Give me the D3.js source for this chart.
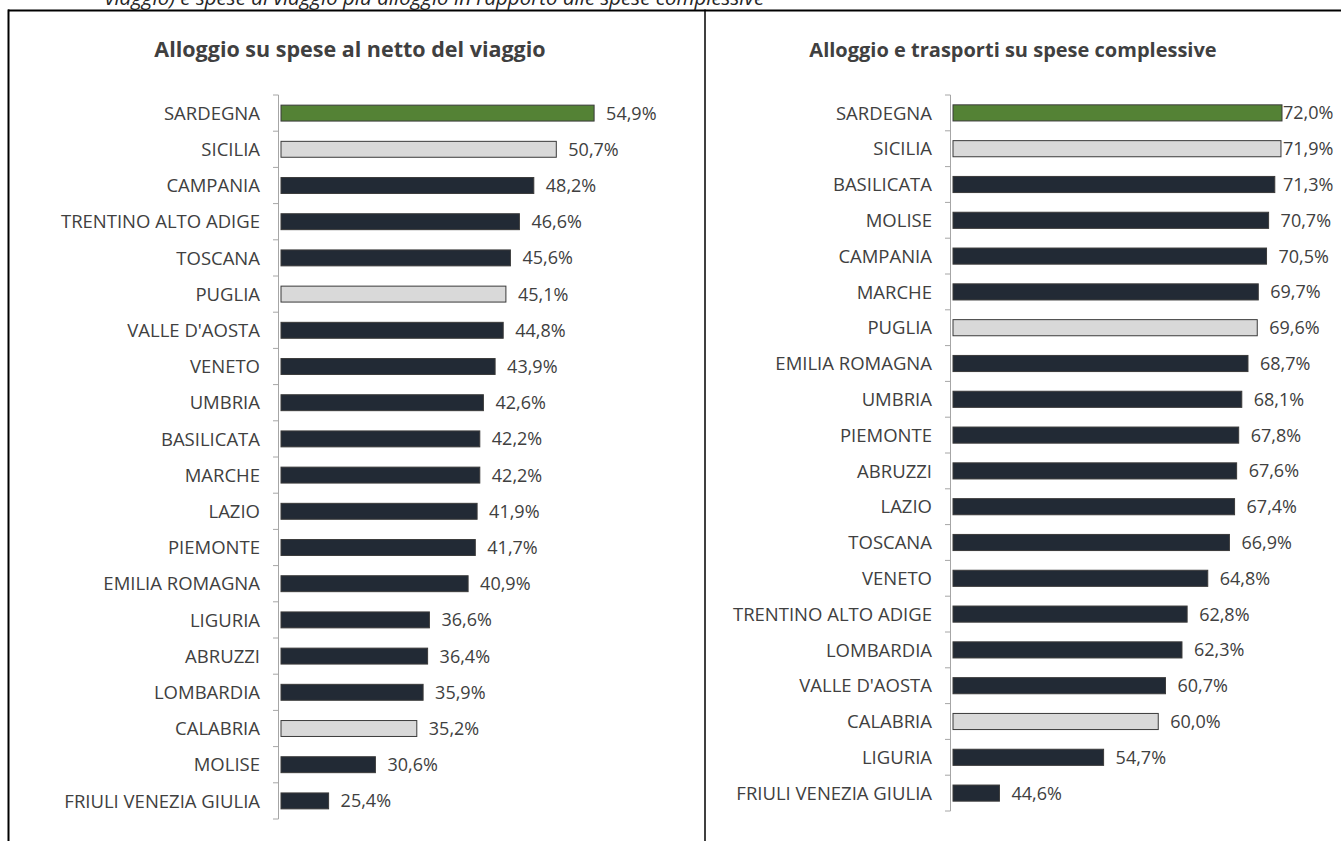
<!DOCTYPE html>
<html><head><meta charset="utf-8">
<script src="https://cdn.jsdelivr.net/npm/d3@7"></script>
<style>
html,body{margin:0;padding:0;background:#fff;}
svg{display:block;font-family:"Open Sans",Lato,sans-serif;}
</style></head>
<body>
<svg id="chart" width="1341" height="841"></svg>
<script>
const caption = "viaggio) e spese di viaggio più alloggio in rapporto alle spese complessive";
const titleLeft = "Alloggio su spese al netto del viaggio";
const titleRight = "Alloggio e trasporti su spese complessive";

const leftCategories = ["SARDEGNA","SICILIA","CAMPANIA","TRENTINO ALTO ADIGE","TOSCANA","PUGLIA","VALLE D'AOSTA","VENETO","UMBRIA","BASILICATA","MARCHE","LAZIO","PIEMONTE","EMILIA ROMAGNA","LIGURIA","ABRUZZI","LOMBARDIA","CALABRIA","MOLISE","FRIULI VENEZIA GIULIA"];
const leftValues = [54.9,50.7,48.2,46.6,45.6,45.1,44.8,43.9,42.6,42.2,42.2,41.9,41.7,40.9,36.6,36.4,35.9,35.2,30.6,25.4];

const rightCategories = ["SARDEGNA","SICILIA","BASILICATA","MOLISE","CAMPANIA","MARCHE","PUGLIA","EMILIA ROMAGNA","UMBRIA","PIEMONTE","ABRUZZI","LAZIO","TOSCANA","VENETO","TRENTINO ALTO ADIGE","LOMBARDIA","VALLE D'AOSTA","CALABRIA","LIGURIA","FRIULI VENEZIA GIULIA"];
const rightValues = [72.0,71.9,71.3,70.7,70.5,69.7,69.6,68.7,68.1,67.8,67.6,67.4,66.9,64.8,62.8,62.3,60.7,60.0,54.7,44.6];

const highlight = ["SARDEGNA"];
const southGroup = ["SICILIA","PUGLIA","CALABRIA"];

const svg = d3.select("#chart");
const fmt = v => d3.format(".1f")(v).replace(".", ",") + "%";

// frame
svg.append("line").attr("x1",8).attr("x2",1341).attr("y1",10.5).attr("y2",10.5).attr("stroke","#000").attr("stroke-width",2);
svg.append("line").attr("x1",8.5).attr("x2",8.5).attr("y1",9.5).attr("y2",841).attr("stroke","#000").attr("stroke-width",2);
svg.append("line").attr("x1",705).attr("x2",705).attr("y1",9.5).attr("y2",841).attr("stroke","#000").attr("stroke-width",1.5);

svg.append("text").attr("x",105).attr("y",5).attr("font-style","italic").attr("font-size",20.5)
  .attr("fill","#262626").text(caption);

function panel(cfg) {
  const g = svg.append("g");
  g.append("text").attr("x",cfg.titleX).attr("y",57).attr("text-anchor","middle")
    .attr("font-size",cfg.titleSize).attr("font-weight","bold").attr("fill","#404040").text(cfg.title);

  const x = d3.scaleLinear().domain(cfg.domain).range(cfg.xRange);
  const y = d3.scaleBand().domain(cfg.cats).range(cfg.yRange).paddingInner(cfg.pad).paddingOuter(cfg.pad/2);
  const data = cfg.cats.map((c,i)=>({c, v: cfg.vals[i]}));
  const color = c => highlight.includes(c) ? "#548235" : southGroup.includes(c) ? "#D9D9D9" : "#222A35";

  const x0 = x(cfg.domain[0]);
  g.selectAll("rect.bar").data(data).join("rect").attr("class","bar")
    .attr("x", x0 + 1)
    .attr("y", d => y(d.c))
    .attr("width", d => x(d.v) - x0 - 1)
    .attr("height", y.bandwidth())
    .attr("fill", d => color(d.c))
    .attr("stroke", "#3A3A3A").attr("stroke-width", 1);

  // axis line and ticks at category boundaries
  g.append("line").attr("x1",x0-1.5).attr("x2",x0-1.5).attr("y1",cfg.yRange[0]).attr("y2",cfg.yRange[1])
    .attr("stroke","#A6A6A6").attr("stroke-width",1);
  const bounds = d3.range(cfg.cats.length+1).map(i => cfg.yRange[0] + i*y.step());
  g.selectAll("line.tk").data(bounds).join("line").attr("class","tk")
    .attr("x1",x0-7).attr("x2",x0-1.5).attr("y1",d=>d).attr("y2",d=>d)
    .attr("stroke","#A6A6A6").attr("stroke-width",1);

  g.selectAll("text.cat").data(data).join("text").attr("class","cat")
    .attr("x", x0 - 20).attr("y", d => y(d.c) + y.bandwidth()/2)
    .attr("dy","0.36em").attr("text-anchor","end")
    .attr("font-size",18.5).attr("fill","#404040").text(d => d.c);

  g.selectAll("text.val").data(data).join("text").attr("class","val")
    .attr("x", d => Math.min(x(d.v) + 12, cfg.labelMax))
    .attr("y", d => y(d.c) + y.bandwidth()/2)
    .attr("dy","0.36em")
    .attr("font-size",18).attr("fill","#404040").text(d => fmt(d.v));
}

panel({title: titleLeft, titleX: 350, titleSize: 21.5, cats: leftCategories, vals: leftValues,
  domain: [20, 60], xRange: [280, 640], yRange: [95, 819], pad: 0.56, labelMax: 9999});
panel({title: titleRight, titleX: 1013, titleSize: 20, cats: rightCategories, vals: rightValues,
  domain: [40, 72], xRange: [952, 1282], yRange: [95, 811], pad: 0.55, labelMax: 1283});
</script>
</body></html>
